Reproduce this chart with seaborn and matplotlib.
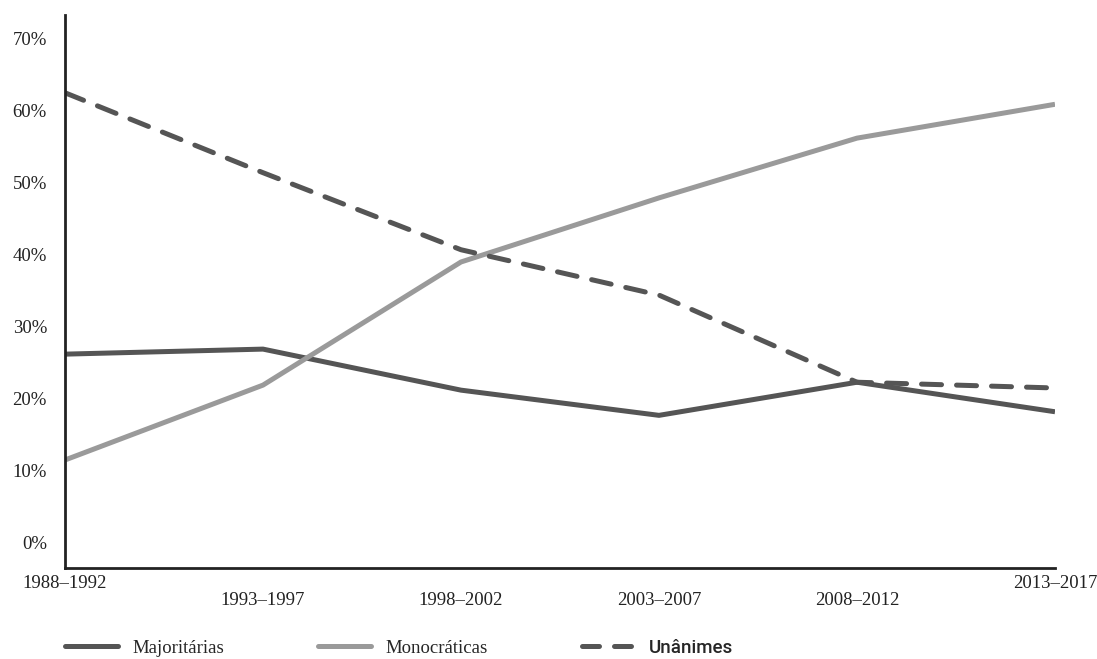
import pandas as pd
import matplotlib
matplotlib.use("Agg")
import matplotlib.pyplot as plt
import seaborn as sns

# values (% of decisions)
periodos = ["1988–1992", "1993–1997", "1998–2002", "2003–2007", "2008–2012", "2013–2017"]
majoritarias = [26.1, 26.8, 21.1, 17.6, 22.2, 18.1]
monocraticas = [11.4, 21.8, 38.9, 47.8, 56.1, 60.8]
unanimes = [62.4, 51.3, 40.6, 34.3, 22.2, 21.4]
series_names = ["Majoritárias", "Monocráticas", "Unânimes"]
y_ticks = [0, 10, 20, 30, 40, 50, 60, 70]

df = pd.DataFrame({
    "idx": list(range(len(periodos))) * 3,
    "valor": majoritarias + monocraticas + unanimes,
    "serie": [s for s in series_names for _ in periodos],
})

sns.set_theme(style="white")
plt.rcParams["font.family"] = ["Liberation Serif", "DejaVu Serif"]

fig = plt.figure(figsize=(10.97, 6.59), dpi=100)
ax = fig.add_axes([65 / 1097, 1 - 568 / 659, (1055 - 65) / 1097, (568 - 15) / 659])

palette = {"Majoritárias": "#555555", "Monocráticas": "#9a9a9a", "Unânimes": "#555555"}
dashes = {"Majoritárias": "", "Monocráticas": "", "Unânimes": (4.0, 3.0)}
sns.lineplot(data=df, x="idx", y="valor", hue="serie", style="serie",
             palette=palette, dashes=dashes, linewidth=3.6, ax=ax, legend=False)
for ln in ax.lines:
    ln.set_dash_capstyle("round")
    ln.set_solid_capstyle("butt")

ax.set_xlim(0, len(periodos) - 1)
ax.set_ylim(-3.6, 73.2)
ax.set_xticks(range(len(periodos)))
xlabels = [p if i in (0, len(periodos) - 1) else "\n" + p for i, p in enumerate(periodos)]
ax.set_xticklabels(xlabels, fontsize=13.5, color="#222222", linespacing=1.0)
ax.set_yticks(y_ticks)
ax.set_yticklabels([f"{v}%" for v in y_ticks], fontsize=13.5, color="#222222")
ax.tick_params(axis="both", length=0)
ax.tick_params(axis="y", pad=13)
ax.tick_params(axis="x", pad=5)
ax.set_xlabel("")
ax.set_ylabel("")

for side in ["top", "right"]:
    ax.spines[side].set_visible(False)
for side in ["left", "bottom"]:
    ax.spines[side].set_color("#222222")
    ax.spines[side].set_linewidth(2)

handles = [plt.Line2D([], [], color=palette[s], linewidth=3.6,
                      linestyle=(0, (3.4, 3.0)) if dashes[s] else "-",
                      dash_capstyle="round", solid_capstyle="round") for s in series_names]
leg = fig.legend(handles, series_names, loc="center left",
                 bbox_to_anchor=(65 / 1097, 1 - 648 / 659), ncol=3, frameon=False,
                 fontsize=13.5, handlelength=2.8, handletextpad=0.8, columnspacing=5.0,
                 borderpad=0, borderaxespad=0)
leg.get_texts()[2].set_fontfamily(["Roboto", "DejaVu Sans"])
leg.get_texts()[2].set_fontweight("medium")

fig.savefig("out.png", dpi=100)
